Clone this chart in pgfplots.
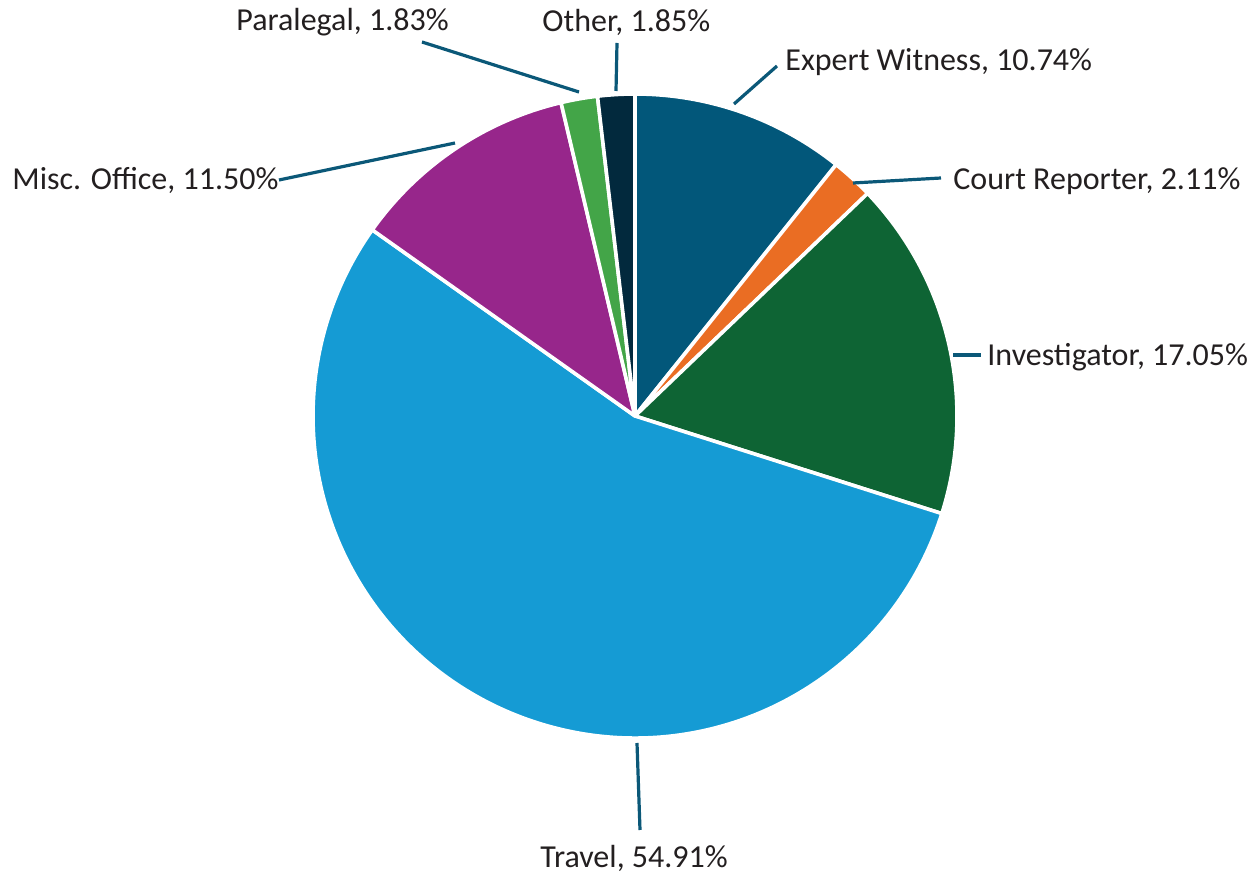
\documentclass[border=0pt]{standalone}
\usepackage{pgfplots}
\pgfplotsset{compat=1.18}
\usepackage{fontspec}
\setmainfont{Carlito}
\definecolor{cEW}{HTML}{02577A}
\definecolor{cCR}{HTML}{EA6D23}
\definecolor{cIN}{HTML}{0E6434}
\definecolor{cTR}{HTML}{159BD4}
\definecolor{cMO}{HTML}{97268B}
\definecolor{cPL}{HTML}{43A548}
\definecolor{cOT}{HTML}{02293D}
\definecolor{leader}{HTML}{0B5878}
\definecolor{txt}{HTML}{231F20}
% #1 = cumulative percent before slice, #2 = slice percent, #3 = colour
\newcommand\slice[3]{%
  \fill[#3, draw=white, line width=1.8pt, line join=round]
    (axis cs:635,416) -- ++({90-3.6*(#1)}:161pt)
    arc[start angle={90-3.6*(#1)}, end angle={90-3.6*((#1)+(#2))}, radius=161pt] -- cycle;}
\tikzset{lbl/.style={font=\fontsize{16}{19}\selectfont, text=txt, inner sep=0pt, anchor=west},
  ldr/.style={leader, line width=1.6pt}}
\begin{document}
\begin{tikzpicture}
\useasboundingbox (0,0) rectangle (630pt,438pt);
\begin{axis}[
  at={(0,0)}, anchor=south west,
  width=630pt, height=438pt, scale only axis,
  xmin=0, xmax=1260, ymin=0, ymax=876, y dir=reverse,
  hide axis, clip=false,
]
% values (percent): Expert Witness 10.74, Court Reporter 2.11, Investigator 17.05,
% Travel 54.91, Misc. Office 11.50, Paralegal 1.83, Other 1.85
\slice{0}{10.74}{cEW}
\slice{10.74}{2.11}{cCR}
\slice{12.85}{17.05}{cIN}
\slice{29.90}{54.91}{cTR}
\slice{84.81}{11.50}{cMO}
\slice{96.31}{1.83}{cPL}
\slice{98.14}{1.85}{cOT}
% leader lines
\draw[ldr] (axis cs:422,42) -- (axis cs:579,92);
\draw[ldr] (axis cs:617,43) -- (axis cs:616,91);
\draw[ldr] (axis cs:777,66) -- (axis cs:734,104);
\draw[ldr] (axis cs:853,183) -- (axis cs:941,178);
\draw[ldr] (axis cs:953,355) -- (axis cs:981,355);
\draw[ldr] (axis cs:279,180) -- (axis cs:455,143);
\draw[ldr] (axis cs:637,743) -- (axis cs:640,830);
% labels
\node[lbl] at (axis cs:236,22) {Paralegal, 1.83\%};
\node[lbl] at (axis cs:542,22) {Other, 1.85\%};
\node[lbl] at (axis cs:785,62) {Expert Witness, 10.74\%};
\node[lbl] at (axis cs:953,181) {Court Reporter, 2.11\%};
\node[lbl] at (axis cs:987,357) {Investigator, 17.05\%};
\node[lbl] at (axis cs:12,180) {Misc. Office, 11.50\%};
\node[lbl] at (axis cs:540,858) {Travel, 54.91\%};
\end{axis}
\end{tikzpicture}
\end{document}
